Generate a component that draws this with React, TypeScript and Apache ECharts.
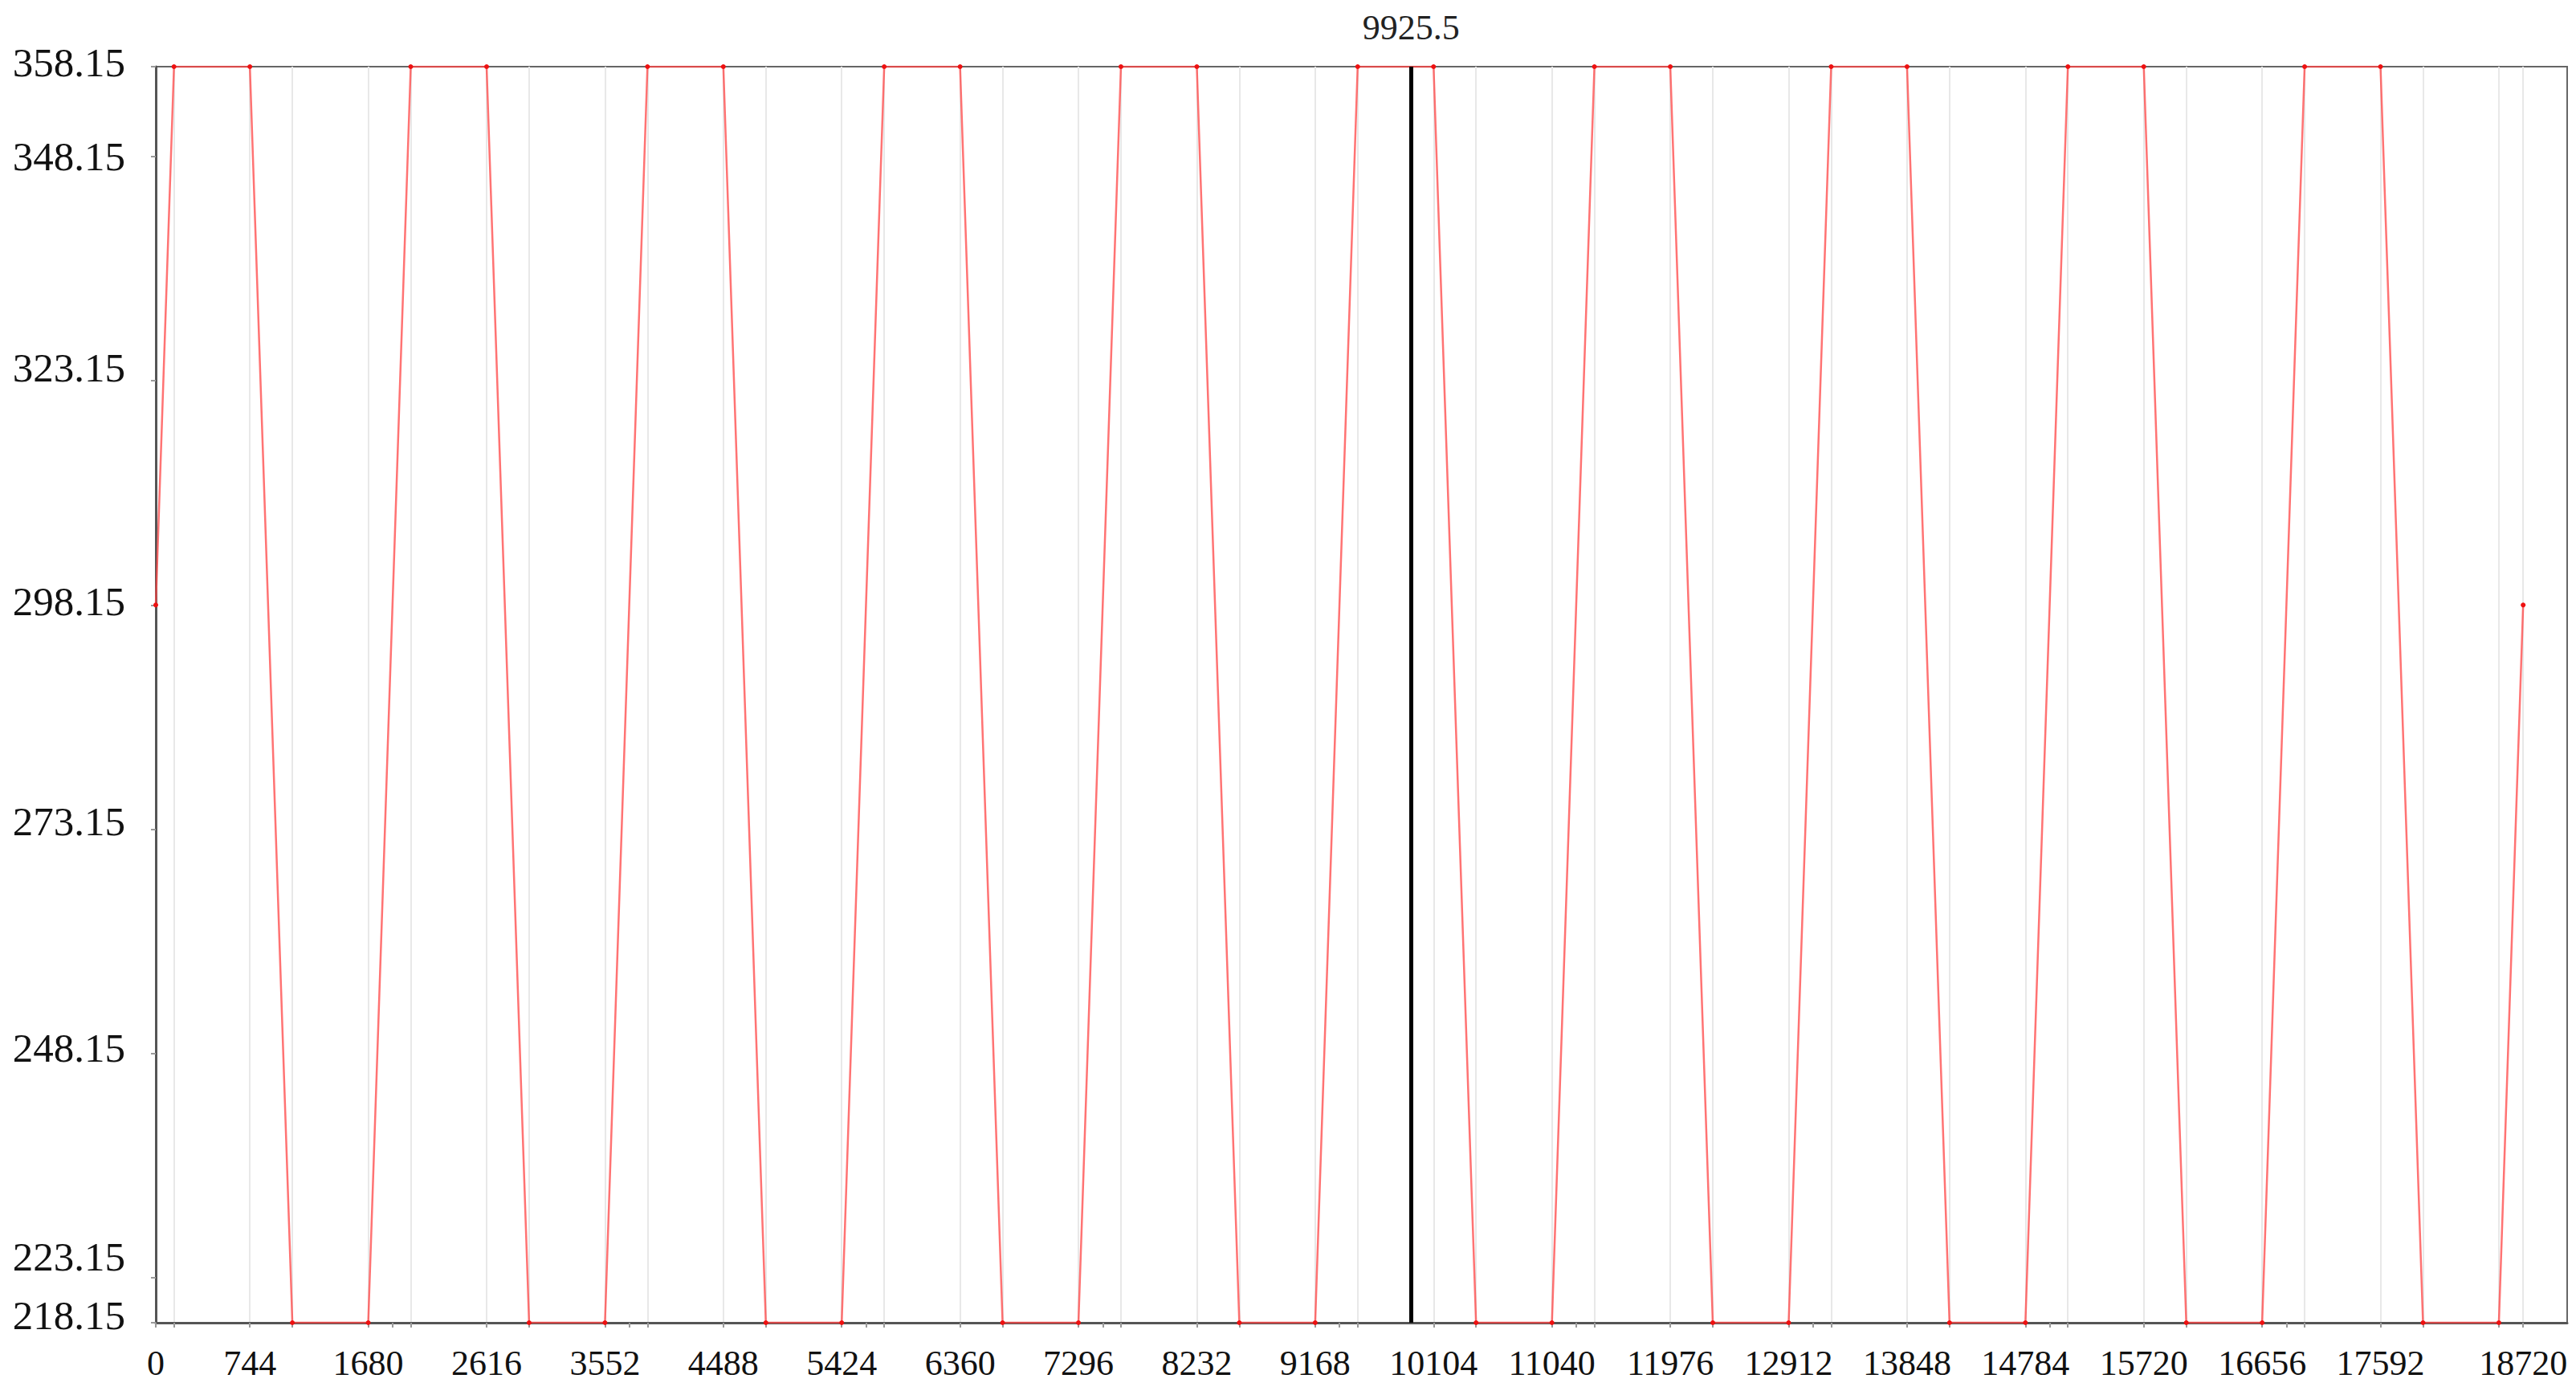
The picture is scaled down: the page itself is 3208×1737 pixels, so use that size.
import React, { useEffect, useRef } from 'react';
import * as echarts from 'echarts';

// time (x) of each vertex of the temperature profile
const timeValues = [
  0, 144, 744, 1080, 1680, 2016, 2616, 2952, 3552, 3888, 4488, 4824, 5424, 5760,
  6360, 6696, 7296, 7632, 8232, 8568, 9168, 9504, 10104, 10440, 11040, 11376,
  11976, 12312, 12912, 13248, 13848, 14184, 14784, 15120, 15720, 16056, 16656,
  16992, 17592, 17928, 18528, 18720,
];
// temperature (y) of each vertex
const tempValues = [
  298.15, 358.15, 358.15, 218.15, 218.15, 358.15, 358.15, 218.15, 218.15, 358.15,
  358.15, 218.15, 218.15, 358.15, 358.15, 218.15, 218.15, 358.15, 358.15, 218.15,
  218.15, 358.15, 358.15, 218.15, 218.15, 358.15, 358.15, 218.15, 218.15, 358.15,
  358.15, 218.15, 218.15, 358.15, 358.15, 218.15, 218.15, 358.15, 358.15, 218.15,
  218.15, 298.15,
];
const xLabelValues = [
  0, 744, 1680, 2616, 3552, 4488, 5424, 6360, 7296, 8232, 9168, 10104, 11040,
  11976, 12912, 13848, 14784, 15720, 16656, 17592, 18720,
];
const cycleTickValues = [1872, 3744, 5616, 7488, 9360, 11232, 13104, 14976, 16848, 18720];
const yLabelValues = [218.15, 223.15, 248.15, 273.15, 298.15, 323.15, 348.15, 358.15];
const markerX = 9925.5;
const xMin = 0;
const xMax = 19068;
const yMin = 218.15;
const yMax = 358.15;

// style: upward nudge (px) of each y label, as in the reference rendering
const yLabelNudge = [9, 26, 7, 10, 4, 16, 0, 5];

const FONT = '"Liberation Serif", "Times New Roman", serif';

export default function App() {
  const ref = useRef<HTMLDivElement>(null);

  useEffect(() => {
    if (!ref.current) return;
    const chart = echarts.init(ref.current, undefined, { renderer: 'svg' });
    const data = timeValues.map((t, i) => [t, tempValues[i]]);

    const rich: Record<string, any> = {};
    yLabelNudge.forEach((n, i) => {
      rich['n' + i] = {
        fontFamily: FONT,
        fontSize: 51,
        color: '#111111',
        padding: [0, 0, 2 * n, 0],
      };
    });

    chart.setOption({
      animation: false,
      backgroundColor: '#ffffff',
      grid: {
        left: 194,
        top: 83,
        right: 11,
        bottom: 90,
        show: true,
        borderColor: '#666666',
        borderWidth: 2,
        backgroundColor: 'transparent',
      },
      xAxis: [
        {
          type: 'value',
          min: xMin,
          max: xMax,
          position: 'bottom',
          axisLine: { show: true, lineStyle: { color: '#555555', width: 3 } },
          axisTick: {
            show: true,
            customValues: timeValues,
            length: 6,
            lineStyle: { color: '#999999', width: 2 },
          },
          splitLine: { show: true, lineStyle: { color: '#e8e8e8', width: 2 } },
          axisLabel: {
            customValues: xLabelValues,
            margin: 28,
            fontFamily: FONT,
            fontSize: 44,
            color: '#111111',
            formatter: (v: number) => String(v),
          },
        },
        {
          type: 'value',
          min: xMin,
          max: xMax,
          position: 'bottom',
          axisLine: { show: false },
          axisTick: {
            show: true,
            customValues: cycleTickValues,
            length: 6,
            lineStyle: { color: '#999999', width: 2 },
          },
          splitLine: { show: false },
          axisLabel: { show: false },
        },
      ],
      yAxis: {
        type: 'value',
        min: yMin,
        max: yMax,
        axisLine: { show: true, lineStyle: { color: '#555555', width: 3 } },
        axisTick: {
          show: true,
          customValues: yLabelValues,
          length: 6,
          lineStyle: { color: '#999999', width: 2 },
        },
        splitLine: { show: false },
        axisLabel: {
          customValues: yLabelValues,
          margin: 38,
          fontFamily: FONT,
          fontSize: 51,
          color: '#111111',
          formatter: (v: number) => {
            let idx = 0;
            let best = Infinity;
            yLabelValues.forEach((y, i) => {
              const d = Math.abs(y - v);
              if (d < best) {
                best = d;
                idx = i;
              }
            });
            return '{n' + idx + '|' + v.toFixed(2) + '}';
          },
          rich,
        },
      },
      series: [
        {
          type: 'line',
          xAxisIndex: 0,
          data,
          symbol: 'circle',
          symbolSize: 6,
          showSymbol: true,
          itemStyle: { color: '#ee1111' },
          lineStyle: { color: '#ff4444', width: 2.5, opacity: 0.75 },
          emphasis: { disabled: true },
          markLine: {
            silent: true,
            symbol: ['none', 'none'],
            lineStyle: { color: '#000000', width: 5, type: 'solid' },
            label: {
              show: true,
              position: 'end',
              distance: 27,
              fontFamily: FONT,
              fontSize: 44,
              color: '#222222',
              formatter: () => String(markerX),
            },
            data: [{ xAxis: markerX }],
          },
        },
      ],
    });
    return () => chart.dispose();
  }, []);

  return (
    <div
      ref={ref}
      style={{ position: 'fixed', left: 0, top: 0, width: '3208px', height: '1737px', background: '#fff' }}
    />
  );
}
